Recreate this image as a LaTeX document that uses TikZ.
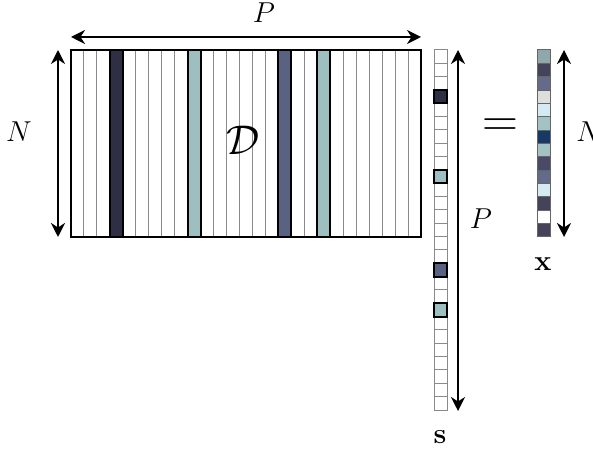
\documentclass[tikz,border=0pt]{standalone}
\usetikzlibrary{arrows.meta}
\definecolor{cdark}{HTML}{2E2F45}
\definecolor{cteal}{HTML}{9DBFBF}
\definecolor{cslate}{HTML}{5A6282}
\definecolor{xa}{HTML}{8FA8AB}
\definecolor{xb}{HTML}{45435A}
\definecolor{xc}{HTML}{646A8A}
\definecolor{xd}{HTML}{DEDEDE}
\definecolor{xe}{HTML}{D4EAF2}
\definecolor{xf}{HTML}{A5C2C2}
\definecolor{xg}{HTML}{163A66}
\definecolor{xh}{HTML}{4A4966}
\definecolor{gridgray}{HTML}{8A8A8A}
\tikzset{
  dimarrow/.style={line width=1.1pt,{Stealth[length=7pt,width=7pt]}-{Stealth[length=7pt,width=7pt]}},
  thincell/.style={draw=gridgray,line width=0.5pt},
  hicell/.style={draw=black,line width=1pt},
  lab/.style={inner sep=0pt,font=\Large}
}
\begin{document}
\begin{tikzpicture}[x=0.5pt,y=-0.5pt]
\useasboundingbox (0,0) rectangle (593,453);
% ---- matrix D ----
\coordinate (Dtl) at (71,50);
\coordinate (Dbr) at (421,237);
\foreach \i in {1,...,26}{
  \draw[gridgray,line width=0.5pt] ({71+\i*350/27},50) -- ({71+\i*350/27},237);
}
\foreach \i/\c in {3/cdark,9/cteal,16/cslate,19/cteal}{
  \draw[hicell,fill=\c] ({71+\i*350/27},50) rectangle ({71+(\i+1)*350/27},237);
}
\draw[line width=0.8pt] (Dtl) rectangle (Dbr);
\node[lab,font=\fontsize{22}{22}\selectfont] (D) at (243,140) {$\mathcal{D}$};
% ---- vector s ----
\foreach \j in {0,...,26}{
  \draw[thincell,fill=white] (434,{50+\j*360/27}) rectangle (447,{50+(\j+1)*360/27});
}
\foreach \j/\c in {3/cdark,9/cteal,16/cslate,19/cteal}{
  \draw[hicell,fill=\c] (434,{50+\j*360/27}) rectangle (447,{50+(\j+1)*360/27});
}
\coordinate (stop) at (458,50);
\coordinate (sbot) at (458,411);
\node[lab] (slab) at (440,437) {$\mathbf{s}$};
% ---- vector x ----
\foreach \j/\c in {0/xa,1/xb,2/xc,3/xd,4/xe,5/xf,6/xg,7/xf,8/xh,9/xc,10/xe,11/xb,12/white,13/xb}{
  \draw[draw=gray!80!black,line width=0.5pt,fill=\c] (537,{50+\j*187/14}) rectangle (550,{50+(\j+1)*187/14});
}
\node[lab] (xlab) at (543,264) {$\mathbf{x}$};
% ---- equals ----
\node[lab,font=\fontsize{30}{30}\selectfont] (eq) at (500,128) {$=$};
% ---- dimension arrows ----
\coordinate (ptl) at (71,37);
\coordinate (ptr) at (421,37);
\draw[dimarrow] (ptl) -- (ptr);
\node[lab] (Ptop) at (264,13) {$P$};
\coordinate (nlt) at (58,50);
\coordinate (nlb) at (58,237);
\draw[dimarrow] (nlt) -- (nlb);
\node[lab] (Nleft) at (19,132) {$N$};
\draw[dimarrow] (stop) -- (sbot);
\node[lab] (Pright) at (481,219) {$P$};
\coordinate (nrt) at (564,50);
\coordinate (nrb) at (564,237);
\draw[dimarrow] (nrt) -- (nrb);
\node[lab,anchor=west] (Nright) at (576,132) {$N$};
\end{tikzpicture}
\end{document}
